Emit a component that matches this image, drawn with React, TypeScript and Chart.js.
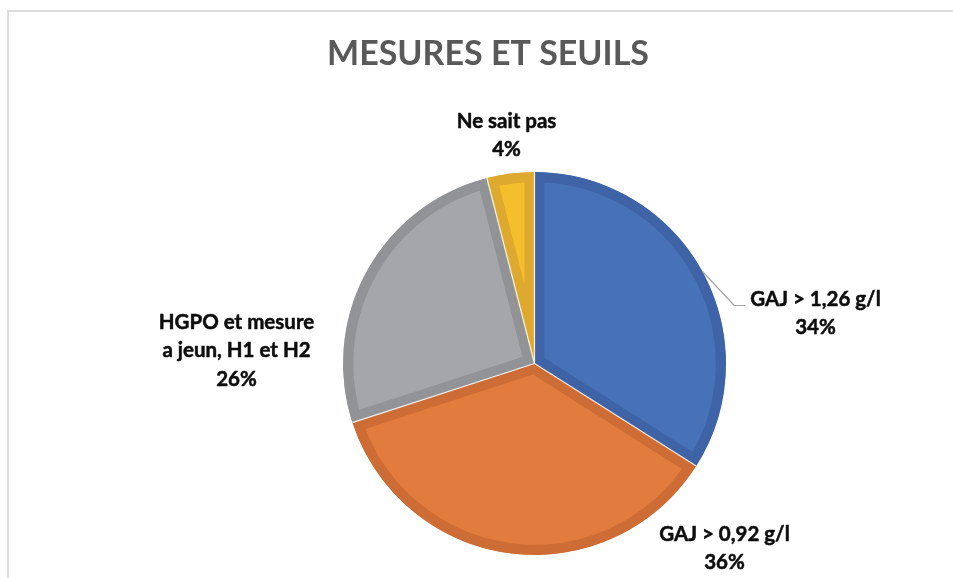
import React, { useEffect, useRef } from "react";
import { Chart, registerables } from "chart.js";

Chart.register(...registerables);

const chartTitle = "MESURES ET SEUILS";
const categories = ["GAJ > 1,26 g/l", "GAJ > 0,92 g/l", "HGPO et mesure a jeun, H1 et H2", "Ne sait pas"];
const categoryLines = [["GAJ > 1,26 g/l"], ["GAJ > 0,92 g/l"], ["HGPO et mesure", "a jeun, H1 et H2"], ["Ne sait pas"]];
const percentages = [34, 36, 26, 4];

const fillColors = ["#4872B8", "#E17C3E", "#A5A6A9", "#F5BE2C"];
const borderColors = ["#3E64A7", "#CD6C34", "#929396", "#DDA92E"];

// label placement relative to pie centre (centre x of text block, baseline of first line)
const labelOffsets = [
  { dx: 281, dy: -58, leader: true },
  { dx: 190, dy: 177, leader: false },
  { dx: -298, dy: -35, leader: false },
  { dx: -28, dy: -236, leader: false },
];

const FONT = "Lato, 'Open Sans', sans-serif";

const labelsPlugin = {
  id: "excelLabels",
  afterDatasetsDraw(chart: any) {
    const ctx = chart.ctx as CanvasRenderingContext2D;
    const meta = chart.getDatasetMeta(0);
    ctx.save();
    // thin white separators between slices
    meta.data.forEach((arc: any) => {
      const { x, y, startAngle, outerRadius } = arc.getProps(["x", "y", "startAngle", "outerRadius"], true);
      ctx.beginPath();
      ctx.moveTo(x, y);
      ctx.lineTo(x + Math.cos(startAngle) * outerRadius, y + Math.sin(startAngle) * outerRadius);
      ctx.strokeStyle = "rgba(255,255,255,0.85)";
      ctx.lineWidth = 1.2;
      ctx.stroke();
    });

    ctx.font = `bold 20.5px ${FONT}`;
    ctx.fillStyle = "#0d0d0d";
    ctx.strokeStyle = "#0d0d0d";
    ctx.lineWidth = 0.5;
    ctx.lineJoin = "round";
    ctx.textAlign = "center";
    ctx.textBaseline = "alphabetic";
    const lineH = 28.5;
    meta.data.forEach((arc: any, i: number) => {
      const { x, y, startAngle, endAngle, outerRadius } = arc.getProps(
        ["x", "y", "startAngle", "endAngle", "outerRadius"],
        true
      );
      const off = labelOffsets[i];
      const cx = x + off.dx;
      const by = y + off.dy;
      const lines = [...categoryLines[i], `${percentages[i]}%`];
      ctx.strokeStyle = "#0d0d0d";
      ctx.lineWidth = 0.5;
      lines.forEach((t, k) => {
        ctx.fillText(t, cx, by + k * lineH);
        ctx.strokeText(t, cx, by + k * lineH);
      });
      if (off.leader) {
        const w = ctx.measureText(lines[0]).width;
        const left = cx - w / 2;
        const mid = (startAngle + endAngle) / 2;
        const sx = x + Math.cos(mid) * outerRadius;
        const sy = y + Math.sin(mid) * outerRadius;
        ctx.beginPath();
        ctx.moveTo(sx, sy);
        ctx.lineTo(left - 16, by);
        ctx.lineTo(left - 5, by);
        ctx.strokeStyle = "#A6A6A6";
        ctx.lineWidth = 1.2;
        ctx.stroke();
      }
    });

    // title
    ctx.font = `bold 34px ${FONT}`;
    ctx.fillStyle = "#595959";
    ctx.textAlign = "center";
    ctx.fillText(chartTitle, 488, 65);
    ctx.restore();
  },
};

export default function App() {
  const ref = useRef<HTMLCanvasElement | null>(null);
  useEffect(() => {
    if (!ref.current) return;
    const chart = new Chart(ref.current, {
      type: "pie",
      data: {
        labels: categories,
        datasets: [
          {
            data: percentages,
            backgroundColor: fillColors,
            borderColor: borderColors,
            borderWidth: 10,
            borderAlign: "inner",
            borderJoinStyle: "miter",
          } as any,
        ],
      },
      options: {
        responsive: false,
        animation: false,
        devicePixelRatio: 1,
        events: [],
        layout: { padding: { top: 172, bottom: 23, left: 343, right: 227 } },
        plugins: {
          legend: { display: false },
          title: { display: false },
          tooltip: { enabled: false },
        },
      },
      plugins: [labelsPlugin],
    });
    return () => chart.destroy();
  }, []);

  return (
    <div style={{ position: "fixed", left: 0, top: 0, width: 953, height: 578, background: "#fff", overflow: "hidden" }}>
      <div
        style={{
          position: "absolute",
          left: 7,
          top: 10,
          width: 1200,
          height: 1000,
          borderLeft: "2px solid #dcdcdc",
          borderTop: "2px solid #dcdcdc",
        }}
      />
      <canvas ref={ref} width={953} height={578} style={{ position: "absolute", left: 0, top: 0, width: 953, height: 578 }} />
    </div>
  );
}
